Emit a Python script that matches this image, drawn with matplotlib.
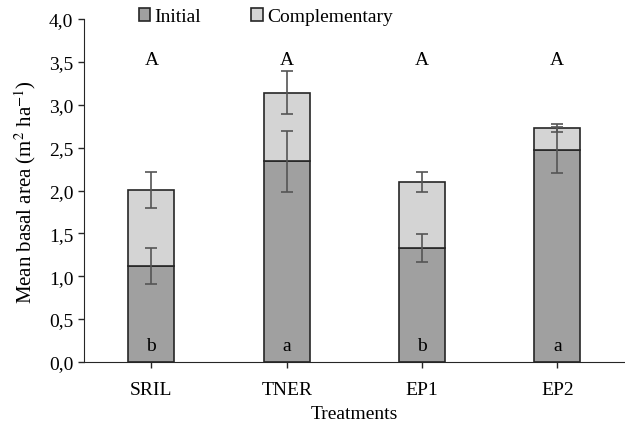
import numpy as np
import matplotlib
matplotlib.use("Agg")
import matplotlib.pyplot as plt
from matplotlib.ticker import FuncFormatter

# data
treatments = ["SRIL", "TNER", "EP1", "EP2"]
initial = [1.12, 2.34, 1.33, 2.47]
initial_err = [0.21, 0.36, 0.16, 0.27]
complementary = [0.89, 0.80, 0.77, 0.26]
total_err = [0.21, 0.25, 0.12, 0.05]
upper_letters = ["A", "A", "A", "A"]
lower_letters = ["b", "a", "b", "a"]

plt.rcParams["font.family"] = ["Liberation Serif", "DejaVu Serif"]
plt.rcParams["mathtext.fontset"] = "stix"

fig = plt.figure(figsize=(6.25, 4.27), dpi=100)
ax = fig.add_axes([0.134, 0.150, 0.866, 0.803])

x = np.arange(len(treatments))
total = np.array(initial) + np.array(complementary)
w = 0.34
ax.bar(x, initial, w, color="#a0a0a0", edgecolor="#262626", lw=1.2, label="Initial", zorder=2)
ax.bar(x, complementary, w, bottom=initial, color="#d4d4d4", edgecolor="#262626", lw=1.2,
       label="Complementary", zorder=2)
ek = dict(fmt="none", ecolor="#555555", elinewidth=1.2, capsize=4, capthick=1.2, zorder=3)
ax.errorbar(x, initial, yerr=initial_err, **ek)
ax.errorbar(x, total, yerr=total_err, **ek)

for i in x:
    ax.text(i, 3.53, upper_letters[i], ha="center", va="center", fontsize=14)
    ax.text(i, 0.19, lower_letters[i], ha="center", va="center", fontsize=14)

ax.set_xlim(-0.5, 3.5)
ax.set_ylim(0, 4)
ax.set_yticks(np.arange(0, 4.01, 0.5))
ax.yaxis.set_major_formatter(FuncFormatter(lambda v, _: f"{v:.1f}".replace(".", ",")))
ax.set_xticks(x)
ax.set_xticklabels(treatments)
ax.tick_params(labelsize=14, direction="out", length=4, width=1, color="#262626")
ax.tick_params(axis="x", pad=10)
for s in ("top", "right"):
    ax.spines[s].set_visible(False)
for s in ("left", "bottom"):
    ax.spines[s].set_color("#262626")
ax.set_xlabel("Treatments", fontsize=14, labelpad=5)
ax.set_ylabel("Mean basal area (m$^{2}$ ha$^{-1}$)", fontsize=15, labelpad=8)

fig.legend(loc="center", bbox_to_anchor=(0.425, 0.958), ncol=2, frameon=False, fontsize=14,
           handlelength=0.6, handleheight=0.6, handletextpad=0.2, columnspacing=2.6)

fig.savefig("out.png", dpi=100)
